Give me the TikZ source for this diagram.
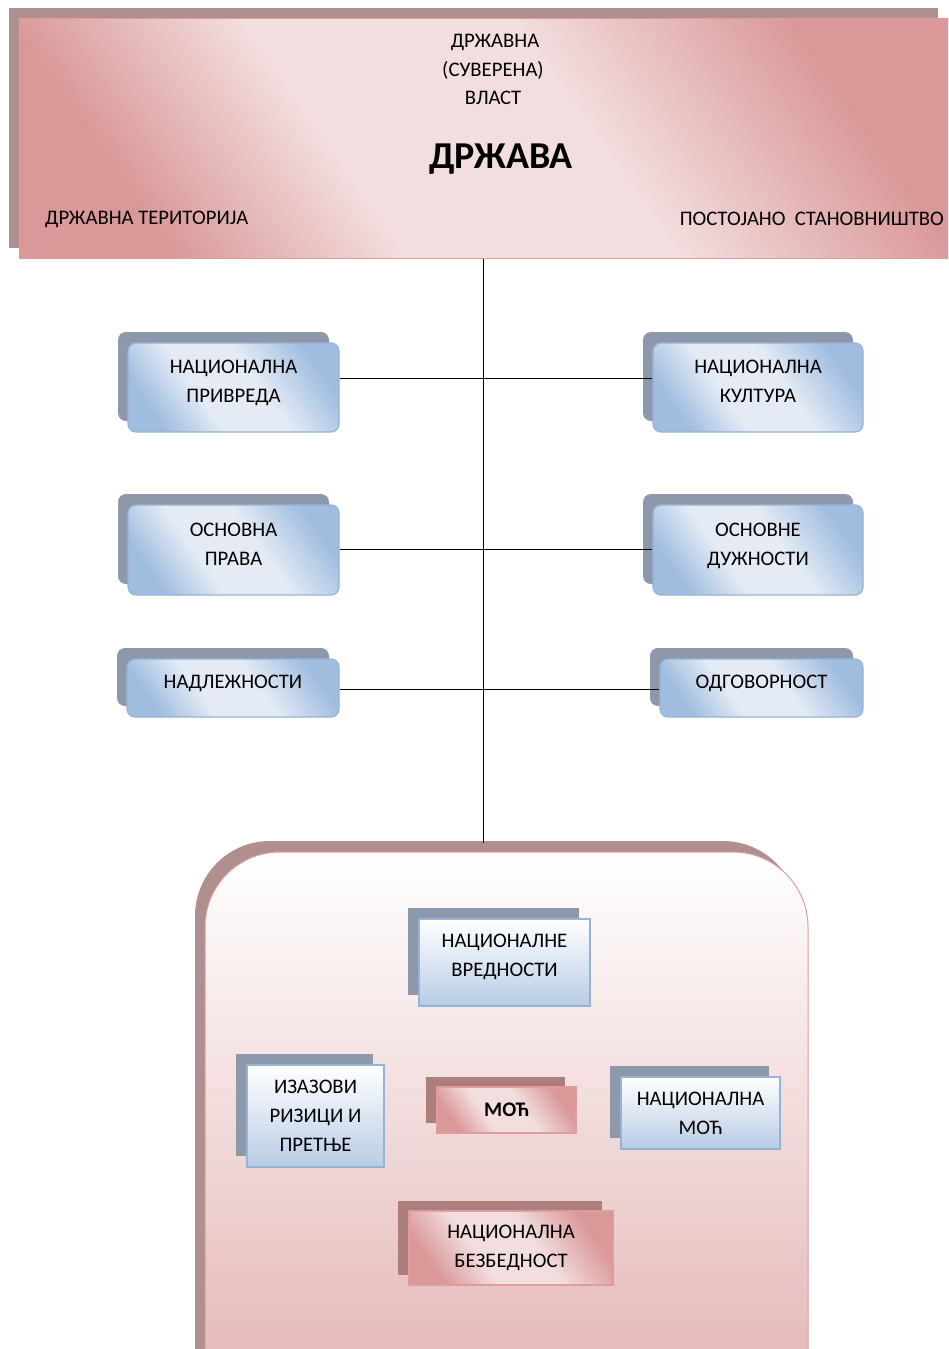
\documentclass[tikz,border=0pt]{standalone}
\usepackage{fontspec}
\setmainfont{Carlito}
\usetikzlibrary{shadows}
\definecolor{pinkdark}{RGB}{218,152,152}
\definecolor{pinkmid}{RGB}{230,185,186}
\definecolor{pinklight}{RGB}{243,222,223}
\definecolor{pinkborder}{RGB}{224,156,156}
\definecolor{pinkshadow}{RGB}{176,143,143}
\definecolor{pinkshadowb}{RGB}{172,126,126}
\definecolor{bluedark}{RGB}{160,189,224}
\definecolor{bluemid}{RGB}{190,208,232}
\definecolor{bluelight}{RGB}{228,235,245}
\definecolor{blueborder}{RGB}{149,179,215}
\definecolor{blueshadow}{RGB}{141,153,170}
\definecolor{bluebottom}{RGB}{184,204,229}
\definecolor{contbottom}{RGB}{226,176,176}
\pgfdeclarehorizontalshading{pinkpearl}{100bp}{color(0bp)=(pinkdark); color(25bp)=(pinkdark); color(40bp)=(pinklight); color(57bp)=(pinklight); color(75bp)=(pinkdark); color(100bp)=(pinkdark)}
\pgfdeclarehorizontalshading{bluepearl}{100bp}{color(0bp)=(bluedark); color(25bp)=(bluedark); color(40bp)=(bluelight); color(57bp)=(bluelight); color(75bp)=(bluedark); color(100bp)=(bluedark)}
\begin{document}
\begin{tikzpicture}[x=1pt,y=-1pt,
  txt/.style={inner sep=0pt, font=\fontsize{20.7}{24}\selectfont},
  banner/.style={draw=pinkborder, line width=1pt, inner sep=0pt,
    shading=pinkpearl, shading angle=35,
    general shadow={fill=pinkshadow, shadow xshift=-10pt, shadow yshift=10pt}},
  bbox/.style={draw=blueborder, line width=1.2pt, rounded corners=8pt, inner sep=0pt,
    shading=bluepearl, shading angle=35, text depth=12pt,
    align=center, font=\fontsize{20.7}{29}\selectfont,
    general shadow={fill=blueshadow, shadow xshift=-10pt, shadow yshift=11pt}},
  sbox/.style={draw=blueborder, line width=1.2pt, inner sep=0pt,
    top color=white, bottom color=bluebottom,
    align=center, font=\fontsize{20.7}{29}\selectfont,
    general shadow={fill=blueshadow, shadow xshift=-11pt, shadow yshift=11pt}},
  pbox/.style={draw=pinkborder, line width=1.2pt, inner sep=0pt,
    shading=pinkpearl, shading angle=35,
    align=center, font=\fontsize{20.7}{29}\selectfont,
    general shadow={fill=pinkshadowb, shadow xshift=-11pt, shadow yshift=10pt}},
  container/.style={draw=pinkborder, line width=1pt, rounded corners=75pt, inner sep=0pt,
    top color=white, bottom color=contbottom,
    general shadow={fill=pinkshadow, shadow xshift=-10pt, shadow yshift=11pt}},
  conn/.style={draw=black, line width=0.9pt}
]
\clip (0,0) rectangle (948,1349);
\fill[white] (0,0) rectangle (948,1349);

% banner
\node[banner, minimum width=929pt, minimum height=240pt] (drz) at (483.5,138) {};
\node[txt] (t1) at (495,42) {ДРЖАВНА};
\node[txt] (t2) at (493,70) {(СУВЕРЕНА)};
\node[txt] (t3) at (493,98) {ВЛАСТ};
\node[inner sep=0pt, font=\fontsize{38}{42}\selectfont\bfseries] (t4) at (501,159) {ДРЖАВА};
\node[txt, anchor=west] (t5) at (45,219) {ДРЖАВНА ТЕРИТОРИЈА};
\node[txt, anchor=east] (t6) at (944,219) {ПОСТОЈАНО\ \ СТАНОВНИШТВО};

% container
\node[container, minimum width=603pt, minimum height=580pt] (cont) at (506.5,1142) {};

% vertical connector
\draw[conn] (drz.south) -- ([yshift=9pt]drz.south |- cont.north);

% side boxes
\node[bbox, minimum width=211pt, minimum height=89pt] (np) at (233.5,387.5) {НАЦИОНАЛНА\\ПРИВРЕДА};
\node[bbox, minimum width=210pt, minimum height=89pt] (nk) at (758,387.5) {НАЦИОНАЛНА\\КУЛТУРА};
\node[bbox, minimum width=211pt, minimum height=90pt] (op) at (233.5,550) {ОСНОВНА\\ПРАВА};
\node[bbox, minimum width=210pt, minimum height=90pt] (od) at (758,550) {ОСНОВНЕ\\ДУЖНОСТИ};
\node[bbox, minimum width=212pt, minimum height=58pt] (nad) at (233,688) {НАДЛЕЖНОСТИ};
\node[bbox, minimum width=203pt, minimum height=58pt] (odg) at (761.5,688) {ОДГОВОРНОСТ};

\draw[conn] ([yshift=9.5pt]np.east) -- ([yshift=9.5pt]nk.west);
\draw[conn] ([yshift=1pt]op.east) -- ([yshift=1pt]od.west);
\draw[conn] ([yshift=-1pt]nad.east) -- ([yshift=-1pt]odg.west);

% inner boxes
\node[sbox, minimum width=171pt, minimum height=87pt, text depth=14pt] (nv) at (504.5,962.5) {НАЦИОНАЛНЕ\\ВРЕДНОСТИ};
\node[sbox, minimum width=137pt, minimum height=102pt] (iz) at (315.5,1116) {ИЗАЗОВИ\\РИЗИЦИ И\\ПРЕТЊЕ};
\node[pbox, minimum width=139pt, minimum height=46pt, font=\fontsize{20.7}{29}\selectfont\bfseries] (moc) at (506.5,1110) {МОЋ};
\node[sbox, minimum width=159pt, minimum height=72pt] (nm) at (700.5,1113) {НАЦИОНАЛНА\\МОЋ};
\node[pbox, minimum width=204pt, minimum height=74pt] (nb) at (511,1248) {НАЦИОНАЛНА\\БЕЗБЕДНОСТ};
\end{tikzpicture}
\end{document}
